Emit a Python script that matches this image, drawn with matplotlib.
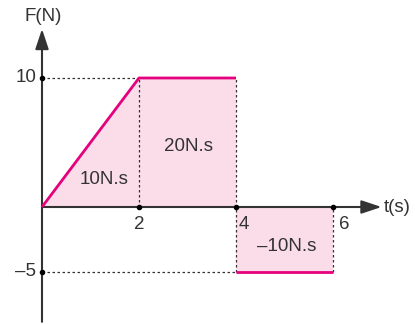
import matplotlib
matplotlib.use("Agg")
import matplotlib.pyplot as plt

# force-time data
t = [0, 2, 4, 4, 6]
F = [0, 10, 10, -5, -5]
x_ticks = [2, 4, 6]
y_ticks = [10, -5]
areas = ["10N.s", "20N.s", "\u201310N.s"]

PINK = "#e5007d"
FILL = "#fbdde9"
AXIS = "#333333"

plt.rcParams.update({"font.family": "Liberation Sans", "font.size": 13.5})

fig = plt.figure(figsize=(4.15, 3.24), dpi=100)
ax = fig.add_axes([0, 0, 1, 1]); ax.axis("off")
# 48.5 px per second, 12.9 px per newton, origin at pixel (42, 207)
ax.set_xlim(-42 / 48.5, (415 - 42) / 48.5)
ax.set_ylim(-117 / 12.9, (324 - 117) / 12.9)

# shaded impulse areas
ax.fill_between(t[:3], F[:3], 0, color=FILL, lw=0, zorder=1)
ax.fill_between(t[3:], F[3:], 0, color=FILL, lw=0, zorder=1)

# dotted guides
dot = dict(color=AXIS, lw=0.9, ls=(0, (2, 2)), zorder=2)
ax.plot([0, t[1]], [F[1], F[1]], **dot)
ax.plot([t[1], t[1]], [0, F[1]], **dot)
ax.plot([t[2], t[2]], [F[3], F[2]], **dot)
ax.plot([t[4], t[4]], [F[4], 0], **dot)
ax.plot([0, t[3]], [F[3], F[3]], **dot)

# axes with arrows
ax.annotate("", xy=(7.0, 0), xytext=(0, 0),
            arrowprops=dict(arrowstyle="-|>,head_length=0.9,head_width=0.3",
                            color=AXIS, lw=1.5, shrinkA=0, shrinkB=0), zorder=3)
ax.annotate("", xy=(0, 13.8), xytext=(0, -8.9),
            arrowprops=dict(arrowstyle="-|>,head_length=0.9,head_width=0.3",
                            color=AXIS, lw=1.5, shrinkA=0, shrinkB=0), zorder=3)

# force curve
ax.plot(t[:3], F[:3], color=PINK, lw=2, solid_capstyle="butt", zorder=4)
ax.plot(t[3:], F[3:], color=PINK, lw=2, solid_capstyle="butt", zorder=4)

# tick dots
ax.scatter(x_ticks, [0] * len(x_ticks), s=9, color="black", zorder=5)
ax.scatter([0] * len(y_ticks), y_ticks, s=9, color="black", zorder=5)

# tick labels
ax.text(2, -0.7, "2", ha="center", va="top", color=AXIS)
ax.text(4.05, -0.7, "4", ha="left", va="top", color=AXIS)
ax.text(6.12, -0.7, "6", ha="left", va="top", color=AXIS)
ax.text(-0.12, 10, "10", ha="right", va="center", color=AXIS)
ax.text(-0.12, -5, "\u20135", ha="right", va="center", color=AXIS)

# axis titles
ax.text(7.05, 0, "t(s)", ha="left", va="center", color=AXIS)
ax.text(0.02, 14.8, "F(N)", ha="center", va="center", color=AXIS)

# area labels
ax.text(1.27, 2.1, areas[0], ha="center", va="center", color=AXIS)
ax.text(3.02, 4.7, areas[1], ha="center", va="center", color=AXIS)
ax.text(5.05, -3.05, areas[2], ha="center", va="center", color=AXIS)

fig.savefig("out.png", facecolor="white")
